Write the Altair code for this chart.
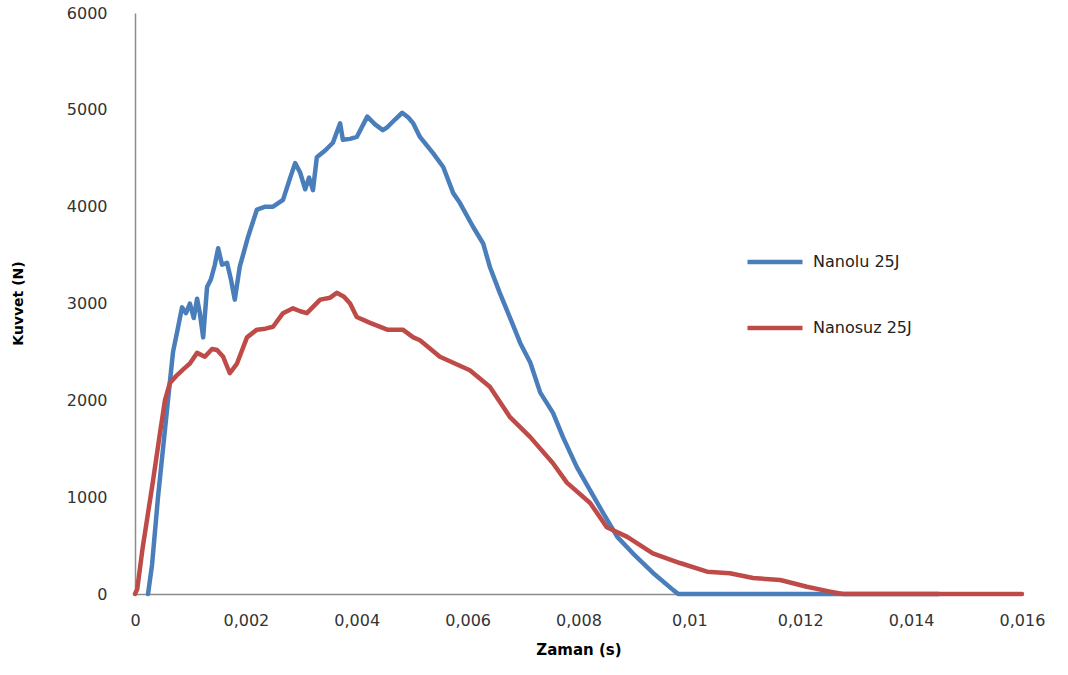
import altair as alt
import pandas as pd

# Nanolu 25J (blue)
nanolu_t = [0.000235, 0.000307, 0.000415, 0.000505, 0.000595, 0.000686, 0.000758, 0.000848,
            0.00092, 0.00099, 0.00106, 0.00112, 0.00117, 0.00123, 0.0013, 0.00137, 0.00144,
            0.0015, 0.00157, 0.00166, 0.00173, 0.0018, 0.00189, 0.00204, 0.0022, 0.00235,
            0.00249, 0.00267, 0.0028, 0.00289, 0.00298, 0.00307, 0.00314, 0.00321, 0.00328,
            0.00343, 0.00357, 0.0037, 0.00375, 0.00388, 0.004, 0.00419, 0.00433, 0.00447,
            0.00455, 0.00469, 0.00482, 0.00493, 0.00502, 0.00514, 0.00538, 0.00556, 0.00574,
            0.00586, 0.0061, 0.00628, 0.0064, 0.00658, 0.00676, 0.00695, 0.00713, 0.00731,
            0.00754, 0.00772, 0.00797, 0.00821, 0.00844, 0.0087, 0.00898, 0.00934, 0.00971,
            0.0098, 0.0145]
nanolu_f = [0, 300, 1000, 1500, 2000, 2500, 2700, 2960,
            2900, 3000, 2850, 3050, 2900, 2650, 3170, 3250, 3400,
            3570, 3400, 3420, 3250, 3040, 3380, 3690, 3970, 4000,
            4000, 4070, 4300, 4450, 4350, 4180, 4300, 4170, 4510,
            4580, 4660, 4860, 4690, 4700, 4720, 4930, 4850, 4790,
            4820, 4900, 4970, 4920, 4860, 4720, 4550, 4410, 4140,
            4040, 3790, 3620, 3380, 3110, 2860, 2590, 2390, 2080,
            1870, 1620, 1310, 1070, 840, 590, 420, 220, 40,
            0, 0]

# Nanosuz 25J (red)
nanosuz_t = [0, 0.00004, 0.00014, 0.00032, 0.00045, 0.00054, 0.00063, 0.00074, 0.00087,
             0.00099, 0.00112, 0.00126, 0.00139, 0.00148, 0.00159, 0.00171, 0.00184, 0.00202,
             0.0022, 0.00235, 0.00249, 0.00267, 0.00285, 0.00298, 0.0031, 0.00334, 0.00352,
             0.00364, 0.00377, 0.00388, 0.004, 0.00424, 0.00455, 0.00483, 0.00502, 0.00514,
             0.0055, 0.00604, 0.0064, 0.00676, 0.00713, 0.00754, 0.00779, 0.00821, 0.00851,
             0.00888, 0.00934, 0.00983, 0.01032, 0.01073, 0.01115, 0.01164, 0.01212, 0.01254,
             0.01277, 0.016]
nanosuz_f = [0, 50, 485, 1150, 1660, 2000, 2180, 2250, 2320,
             2380, 2490, 2450, 2530, 2520, 2450, 2280, 2380, 2650,
             2730, 2740, 2760, 2900, 2950, 2920, 2900, 3040, 3060,
             3110, 3070, 3000, 2860, 2800, 2730, 2730, 2650, 2620,
             2450, 2310, 2140, 1830, 1620, 1350, 1150, 940, 690,
             590, 420, 320, 230, 215, 165, 145, 75, 25,
             0, 0]

series_names = ["Nanolu 25J", "Nanosuz 25J"]
series_colors = ["#4A7EBB", "#BE4B48"]
x_ticks = [0, 0.002, 0.004, 0.006, 0.008, 0.01, 0.012, 0.014, 0.016]
y_ticks = [0, 1000, 2000, 3000, 4000, 5000, 6000]

rows = []
for i, (t, f) in enumerate(zip(nanolu_t, nanolu_f)):
    rows.append({"t": t, "f": f, "seri": series_names[0], "o": i})
for i, (t, f) in enumerate(zip(nanosuz_t, nanosuz_f)):
    rows.append({"t": t, "f": f, "seri": series_names[1], "o": i})
df = pd.DataFrame(rows)

FONT = "DejaVu Sans"

chart = alt.Chart(df).mark_line(strokeWidth=4.5, strokeJoin="round", strokeCap="round").encode(
    x=alt.X("t:Q",
            scale=alt.Scale(domain=[0, 0.016], nice=False, zero=False),
            axis=alt.Axis(values=x_ticks, title="Zaman (s)", grid=False, ticks=False,
                          labelExpr="replace('' + datum.value, '.', ',')",
                          labelPadding=18, labelFontSize=16, labelColor="#333333",
                          labelFont=FONT, domainColor="#8C8C8C", domainWidth=1.5,
                          titleFont=FONT, titleFontSize=15, titleFontWeight="bold",
                          titleColor="#000000", titlePadding=14, labelFlush=False)),
    y=alt.Y("f:Q",
            scale=alt.Scale(domain=[0, 6000], nice=False),
            axis=alt.Axis(values=y_ticks, format="d", title="Kuvvet (N)", grid=False,
                          ticks=False, labelPadding=28, labelFontSize=16,
                          labelColor="#333333", labelFont=FONT, domainColor="#8C8C8C",
                          domainWidth=1.5, titleFont=FONT, titleFontSize=14,
                          titleFontWeight="bold", titleColor="#000000",
                          titleX=-110, titleY=290, labelFlush=False)),
    color=alt.Color("seri:N",
                    scale=alt.Scale(domain=series_names, range=series_colors),
                    legend=alt.Legend(title=None, orient="none", legendX=610, legendY=219,
                                      symbolType="stroke", symbolSize=3025,
                                      symbolStrokeWidth=4.5, rowPadding=27,
                                      labelFont=FONT, labelFontSize=16,
                                      labelColor="#222222", labelOffset=8)),
    order="o:Q",
).properties(
    width=887, height=581,
    autosize=alt.AutoSizeParams(type="none"),
    padding={"left": 135, "top": 13, "right": 46, "bottom": 81},
).configure(background="white").configure_view(stroke=None, strokeWidth=0)

chart.save("out.html", embed_options={"renderer": "svg", "actions": False})
